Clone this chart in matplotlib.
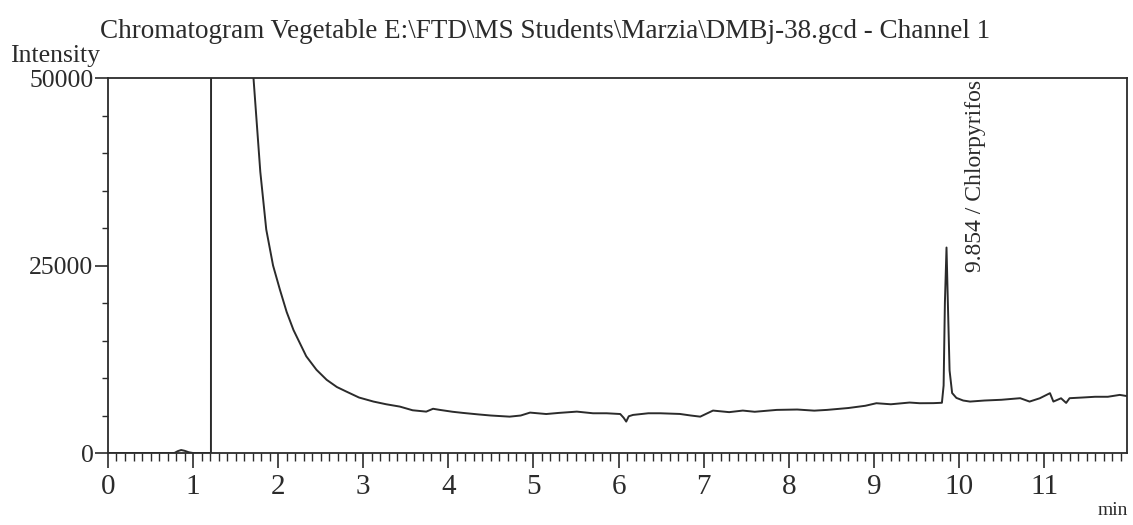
import matplotlib
matplotlib.use("Agg")
import matplotlib.pyplot as plt
from matplotlib.ticker import MultipleLocator

TIEMPO = [0.00, 0.50, 0.78, 0.82, 0.86, 0.90, 0.95, 1.00, 1.21, 1.22, 1.62,
          1.71, 1.79, 1.86, 1.94, 2.02, 2.10, 2.18, 2.33, 2.45, 2.57, 2.69,
          2.80, 2.95, 3.12, 3.27, 3.43, 3.58, 3.74, 3.82, 3.90, 4.05, 4.17,
          4.35, 4.50, 4.72, 4.85, 4.96, 5.15, 5.30, 5.51, 5.70, 5.86, 6.02,
          6.06, 6.09, 6.12, 6.17, 6.35, 6.49, 6.72, 6.85, 6.96, 7.11, 7.30,
          7.46, 7.60, 7.86, 8.10, 8.30, 8.45, 8.70, 8.90, 9.03, 9.20, 9.42,
          9.54, 9.70, 9.80, 9.82, 9.835, 9.854, 9.87, 9.89, 9.92, 9.97, 10.05,
          10.13, 10.30, 10.50, 10.72, 10.83, 10.95, 11.07, 11.11, 11.20, 11.26,
          11.30, 11.45, 11.60, 11.75, 11.89, 11.97]
INTENSIDAD = [0, 0, 0, 250, 400, 300, 100, 0, 0, 400000, 400000,
              50000, 37500, 29800, 25000, 21800, 18800, 16400, 12900, 11100, 9760, 8800,
              8200, 7400, 6860, 6500, 6190, 5700, 5520, 5900, 5750, 5500, 5350,
              5150, 5000, 4850, 5000, 5390, 5200, 5350, 5520, 5300, 5300, 5200,
              4700, 4190, 4900, 5080, 5300, 5300, 5210, 5000, 4850, 5660, 5450,
              5660, 5500, 5750, 5800, 5650, 5750, 6000, 6300, 6640, 6500, 6730,
              6640, 6650, 6700, 9000, 20000, 27400, 20000, 11000, 8000, 7350, 7000,
              6860, 7000, 7100, 7310, 6860, 7300, 7980, 6860, 7300, 6680,
              7310, 7400, 7500, 7500, 7750, 7600]

PICO_TR     = 9.854
PICO_NOMBRE = "Chlorpyrifos"
X_TICKS     = list(range(0, 12))
Y_TICKS     = [0, 25000, 50000]
TITULO      = r"Chromatogram Vegetable E:\FTD\MS Students\Marzia\DMBj-38.gcd - Channel 1"

FUENTE = "Liberation Serif"
NEGRO  = "#2b2b2b"

fig = plt.figure(figsize=(11.33, 5.25), dpi=100)
ax = fig.add_axes([0.0953, 0.1371, 0.8994, 0.7143])

ax.plot(TIEMPO, INTENSIDAD, color=NEGRO, linewidth=1.4)

ax.set_xlim(0, 11.975)
ax.set_ylim(0, 50000)

ax.set_xticks(X_TICKS)
ax.set_xticklabels([str(t) for t in X_TICKS], fontfamily=FUENTE, fontsize=21)
ax.xaxis.set_minor_locator(MultipleLocator(0.1))
ax.set_yticks(Y_TICKS)
ax.set_yticklabels([str(v) for v in Y_TICKS], fontfamily=FUENTE, fontsize=18.5)
ax.yaxis.set_minor_locator(MultipleLocator(5000))

ax.tick_params(axis="x", which="major", direction="out", length=11, width=1.2,
               pad=4, colors=NEGRO)
ax.tick_params(axis="x", which="minor", direction="out", length=5.5, width=1.0,
               colors=NEGRO)
ax.tick_params(axis="y", which="major", direction="out", length=9.5, width=1.2,
               pad=1, colors=NEGRO)
ax.tick_params(axis="y", which="minor", direction="out", length=4, width=1.0,
               colors=NEGRO)
for s in ax.spines.values():
    s.set_color(NEGRO)
    s.set_linewidth(1.3)

# etiqueta del pico
ax.text(10.19, 24100, f"{PICO_TR} / {PICO_NOMBRE}", rotation=90,
        ha="center", va="bottom", fontfamily=FUENTE, fontsize=17, color=NEGRO)

fig.text(0.088, 0.94, TITULO, ha="left", va="center",
         fontfamily=FUENTE, fontsize=19.5, color=NEGRO)
fig.text(0.009, 0.893, "Intensity", ha="left", va="center",
         fontfamily=FUENTE, fontsize=18.5, color=NEGRO)
fig.text(0.9955, 0.012, "min", ha="right", va="bottom",
         fontfamily=FUENTE, fontsize=14, color=NEGRO)

fig.savefig("out.png", dpi=100, facecolor="white")
